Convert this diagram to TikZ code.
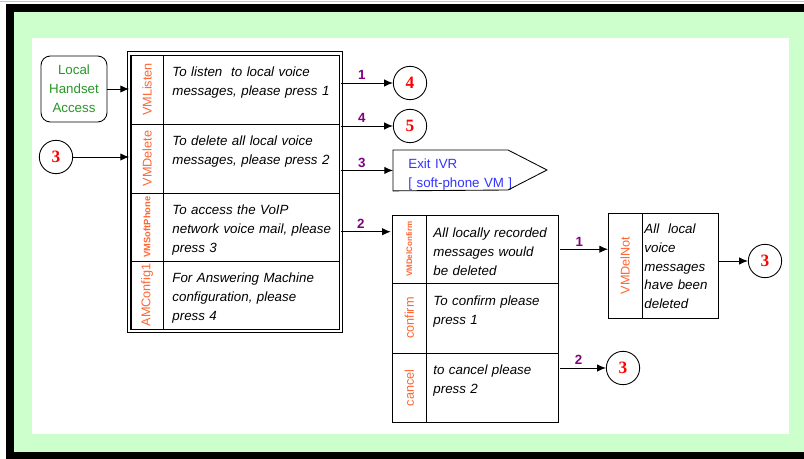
\documentclass[tikz,border=0pt]{standalone}
\usepackage{fontspec}
\setmainfont{Liberation Sans}
\newfontfamily\numserif{Liberation Serif}
\usepackage{graphicx}
\usetikzlibrary{arrows.meta}

\definecolor{lblorange}{RGB}{255,102,51}
\definecolor{keypurple}{RGB}{128,0,128}
\definecolor{bggreen}{RGB}{204,255,204}
\definecolor{txtgreen}{RGB}{40,150,40}
\definecolor{exitblue}{RGB}{51,51,255}

\newcommand{\descfont}{\fontsize{10}{14.25}\selectfont\itshape}
\newcommand{\lblfont}{\fontsize{9.5}{10}\selectfont}
\newcommand{\smlblfont}{\fontsize{7}{8}\selectfont\bfseries}
\newcommand{\tinylblfont}{\fontsize{6}{7}\selectfont\bfseries}
\newcommand{\keyfont}{\fontsize{10}{11}\selectfont\bfseries}
\newcommand{\circfont}{\numserif\bfseries\fontsize{13}{13}\selectfont}

\begin{document}
\begin{tikzpicture}[x=0.75pt,y=-0.75pt,->,>={Latex[length=6.5pt,width=5.5pt]},line width=0.65pt,
    circ/.style={circle,draw,minimum size=25pt,inner sep=0pt,text=red,font=\circfont},
    entry/.style={draw,rounded corners=7pt,minimum width=49.5pt,minimum height=49.5pt,
        inner sep=0pt,align=center,text=txtgreen,font=\fontsize{10}{14.25}\selectfont},
    dbox/.style={draw,double,double distance=2pt,inner sep=0pt,outer sep=0pt},
    cell/.style={draw,anchor=north west,inner sep=0pt,outer sep=0pt},
    lblcell/.style={cell,text=lblorange,font=\lblfont},
    desc/.style={anchor=base west,align=left,text width=125pt,inner sep=0pt,font=\descfont},
    exitbox/.style={anchor=north west,minimum height=30pt,text width=80pt,align=left,
        inner xsep=11.25pt,inner ysep=0pt,text=exitblue,font=\fontsize{10}{14}\selectfont},
    key/.style={above,pos=0.4,inner sep=2pt,text=keypurple,font=\keyfont}]

\useasboundingbox (0,0) rectangle (804,459);

% frame
\fill[-,white] (0,0) rectangle (804,459);
\draw[-,gray!45,line width=0.75pt] (0,1.5) -- (804,1.5);
\fill[-,black] (6,4) rectangle (804,459);
\fill[-,bggreen] (14,12) rectangle (804,452);
\fill[-,white] (32,38) rectangle (789,434);

% entry points
\node[entry] (lha) at (74,89) {Local\\Handset\\Access};
\node[circ] (c3a) at (56,157) {3};

% main menu
\node[dbox,minimum width=159pt,minimum height=208.1pt] (menu) at (235,192.25) {};
\node[lblcell,minimum width=24pt,minimum height=51.75pt] (l1) at (131,55) {\rotatebox{90}{VMListen}};
\node[lblcell,minimum width=24pt,minimum height=51.75pt] (l2) at (131,124) {\rotatebox{90}{VMDelete}};
\node[lblcell,minimum width=24pt,minimum height=51pt,font=\smlblfont] (l3) at (131,193) {\rotatebox{90}{VMSoftPhone}};
\node[lblcell,minimum width=24pt,minimum height=51pt] (l4) at (131,261) {\rotatebox{90}{AMConfig1}};
\node[cell,minimum width=132pt,minimum height=51.75pt] (t1) at (163,55) {};
\node[cell,minimum width=132pt,minimum height=51.75pt] (t2) at (163,124) {};
\node[cell,minimum width=132pt,minimum height=51pt] (t3) at (163,193) {};
\node[cell,minimum width=132pt,minimum height=51pt] (t4) at (163,261) {};
\node[desc] at ([shift={(9,22)}]t1.north west) {To listen\ \ to local voice\\messages, please press 1};
\node[desc] at ([shift={(9,22)}]t2.north west) {To delete all local voice\\messages, please press 2};
\node[desc] at ([shift={(9,22)}]t3.north west) {To access the VoIP\\network voice mail, please\\press 3};
\node[desc] at ([shift={(9,22)}]t4.north west) {For Answering Machine\\configuration, please\\press 4};

% targets of the main menu
\node[circ] (c4) at (410,83) {4};
\node[circ] (c5) at (410,126) {5};
\node[exitbox] (exit) at (393,150) {\rule{0pt}{13.5pt}Exit IVR\\{[} soft-phone VM {]}};
\draw[-] (exit.north west) -- ++(115,0) -- ++(39,20) -- ++(-39,20) -- (exit.south west) -- cycle;

% delete confirmation
\node[dbox,minimum width=127.1pt,minimum height=157.9pt] (conf) at (475.5,319) {};
\node[lblcell,minimum width=25.1pt,minimum height=50.6pt,font=\tinylblfont] (k1) at (392.5,215.5) {\rotatebox{90}{VMDelConfirm}};
\node[lblcell,minimum width=25.1pt,minimum height=52.5pt] (k2) at (392.5,283) {\rotatebox{90}{confirm}};
\node[lblcell,minimum width=25.1pt,minimum height=52.1pt] (k3) at (392.5,353) {\rotatebox{90}{cancel}};
\node[cell,minimum width=99.4pt,minimum height=50.6pt] (m1) at (426,215.5) {};
\node[cell,minimum width=99.4pt,minimum height=52.5pt] (m2) at (426,283) {};
\node[cell,minimum width=99.4pt,minimum height=52.1pt] (m3) at (426,353) {};
\node[desc] at ([shift={(7,22.5)}]m1.north west) {All locally recorded\\messages would\\be deleted};
\node[desc] at ([shift={(7,23)}]m2.north west) {To confirm please\\press 1};
\node[desc] at ([shift={(7,22)}]m3.north west) {to cancel please\\press 2};

% deleted notice
\node[lblcell,minimum width=25.5pt,minimum height=78.75pt] (dnl) at (608,213) {\rotatebox{90}{VMDelNot}};
\node[cell,minimum width=57pt,minimum height=78.75pt] (dnt) at (642,213) {};
\node[desc,text width=55pt,font=\fontsize{10}{14}\selectfont\itshape] at ([shift={(2,21)}]dnt.north west) {All\ \ local\\voice\\messages\\have been\\deleted};
\node[circ] (c3b) at (623,368) {3};
\node[circ] (c3c) at (765,261) {3};

\path (conf.north west) ++(0,18) coordinate (c2in);

\path[]
(lha) edge (lha -| menu.west)
(c3a) edge (c3a -| menu.west)
(menu.east |- c4) edge node[key]{1} (c4)
(menu.east |- c5) edge node[key]{4} (c5)
(menu.east |- exit) edge node[key]{3} (exit)
(menu.east |- c2in) edge node[key]{2} (c2in)
(conf.east |- k1) edge node[key]{1} (dnl.west |- k1)
(conf.east |- c3b) edge node[key]{2} (c3b)
(dnt.east |- c3c) edge (c3c);
\end{tikzpicture}
\end{document}
